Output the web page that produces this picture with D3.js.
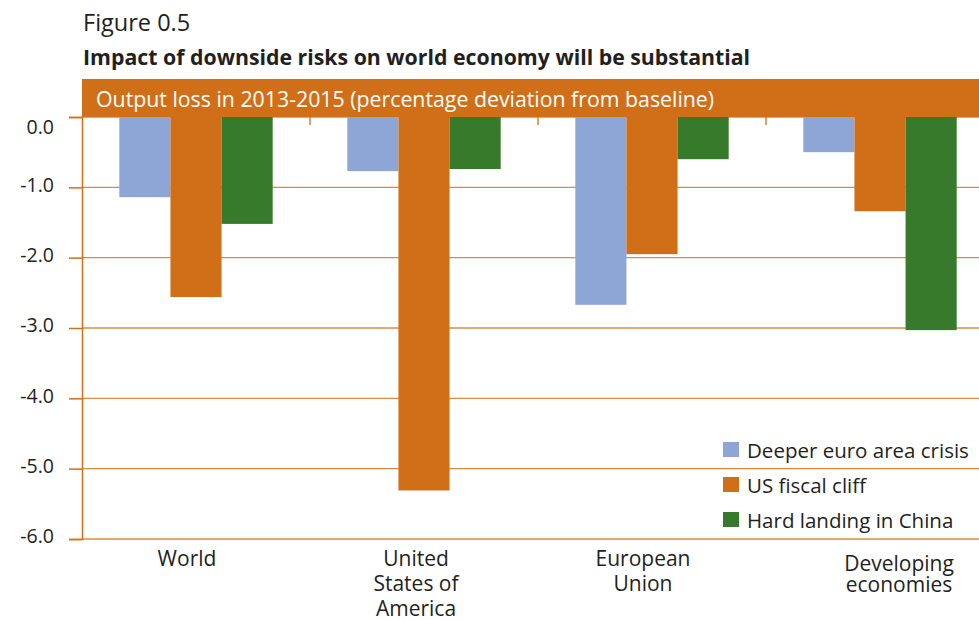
<!DOCTYPE html>
<html>
<head>
<meta charset="utf-8">
<script src="https://cdn.jsdelivr.net/npm/d3@7"></script>
<style>
  body { margin: 0; background: #fff; }
  text { font-family: "Open Sans", sans-serif; fill: #231f20; }
</style>
</head>
<body>
<div id="chart"></div>
<script>
// chart data
const regions = ["World", "United States of America", "European Union", "Developing economies"];
const regionLines = [["World"], ["United", "States of", "America"], ["European", "Union"], ["Developing", "economies"]];
const scenarios = ["Deeper euro area crisis", "US fiscal cliff", "Hard landing in China"];
const euroCrisis = [-1.14, -0.77, -2.67, -0.50];
const fiscalCliff = [-2.56, -5.31, -1.95, -1.34];
const chinaLanding = [-1.52, -0.74, -0.60, -3.03];
const yTicks = [0, -1, -2, -3, -4, -5, -6];
const colors = ["#8ea6d6", "#d16f18", "#377a2c"];

// layout
const width = 979, height = 620;
const plotLeft = 82, plotRight = 994, plotTop = 117, plotBottom = 539;
const orange = "#d16f18", gridColor = "#dc8a45";
// the original's category labels are not quite centred on their groups
const labelNudge = [-9, -8, -9, 19];
const labelTop = [566, 566, 566, 571];
const labelStep = [25, 25, 25, 21];

const svg = d3.select("#chart")
  .append("svg")
    .attr("width", width)
    .attr("height", height);

// scales
const x0 = d3.scaleBand().domain(regions).range([plotLeft, plotRight]).padding(0);
const x1 = d3.scaleBand().domain(scenarios).range([0, x0.bandwidth()]).paddingInner(0).paddingOuter(0.73);
const y = d3.scaleLinear().domain([-6, 0]).range([plotBottom, plotTop]);
const color = d3.scaleOrdinal().domain(scenarios).range(colors);

const table = regions.map((r, i) => ({
  region: r,
  values: [euroCrisis[i], fiscalCliff[i], chinaLanding[i]].map((v, j) => ({ key: scenarios[j], value: v }))
}));

// titles
svg.append("text")
  .attr("x", 83).attr("y", 31)
  .style("font-size", "23.5px")
  .text("Figure 0.5");
svg.append("text")
  .attr("x", 83).attr("y", 65)
  .style("font-size", "21.3px")
  .style("font-weight", "bold")
  .text("Impact of downside risks on world economy will be substantial");

// gridlines
svg.append("g")
  .selectAll("line")
  .data(yTicks)
  .join("line")
    .attr("x1", plotLeft).attr("x2", width)
    .attr("y1", d => y(d)).attr("y2", d => y(d))
    .attr("stroke", gridColor)
    .attr("stroke-width", 1.3);

// bars
svg.append("g")
  .selectAll("g")
  .data(table)
  .join("g")
    .attr("transform", d => `translate(${x0(d.region)},0)`)
  .selectAll("rect")
  .data(d => d.values)
  .join("rect")
    .attr("x", d => x1(d.key))
    .attr("width", x1.bandwidth())
    .attr("y", y(0))
    .attr("height", d => y(d.value) - y(0))
    .attr("fill", d => color(d.key));

// header band
svg.append("rect")
  .attr("x", plotLeft).attr("y", 79)
  .attr("width", width - plotLeft).attr("height", plotTop - 79)
  .attr("fill", orange);
svg.append("text")
  .attr("x", 96).attr("y", 107)
  .style("font-size", "21.3px")
  .style("fill", "#fff")
  .text("Output loss in 2013-2015 (percentage deviation from baseline)");

// small ticks between groups
svg.append("g")
  .selectAll("line")
  .data(regions.slice(1))
  .join("line")
    .attr("x1", d => x0(d)).attr("x2", d => x0(d))
    .attr("y1", plotTop).attr("y2", plotTop + 8)
    .attr("stroke", orange)
    .attr("stroke-width", 1.3);

// y axis
const yAxis = svg.append("g")
  .attr("transform", `translate(${plotLeft},0)`)
  .call(d3.axisLeft(y).tickValues(yTicks).tickSize(13).tickPadding(15).tickFormat(d => d.toFixed(1)));
yAxis.select(".domain").attr("stroke", orange).attr("stroke-width", 1.5);
yAxis.selectAll(".tick line").attr("stroke", orange).attr("stroke-width", 1.5);
yAxis.selectAll(".tick text")
  .style("font-size", "19.5px")
  .style("font-family", "'Open Sans', sans-serif")
  .attr("fill", "#231f20")
  .attr("dy", d => d === 0 ? "0.85em" : "0.2em");

// x labels
svg.append("g")
  .selectAll("text")
  .data(regions)
  .join("text")
    .attr("x", (d, i) => x0(d) + x0.bandwidth() / 2 + labelNudge[i])
    .attr("y", (d, i) => labelTop[i])
    .attr("text-anchor", "middle")
    .style("font-size", "21px")
  .selectAll("tspan")
  .data((d, i) => regionLines[i].map(t => ({ t, step: labelStep[i] })))
  .join("tspan")
    .attr("x", function() { return d3.select(this.parentNode).attr("x"); })
    .attr("dy", (d, i) => i === 0 ? 0 : d.step)
    .text(d => d.t);

// legend
const legend = svg.append("g")
  .attr("transform", "translate(723,442)");
const item = legend.selectAll("g")
  .data(scenarios)
  .join("g")
    .attr("transform", (d, i) => `translate(0,${i * 35})`);
item.append("rect")
  .attr("width", 16).attr("height", 15)
  .attr("fill", d => color(d));
item.append("text")
  .attr("x", 24).attr("y", 15.5)
  .style("font-size", "20.5px")
  .text(d => d);
</script>
</body>
</html>
